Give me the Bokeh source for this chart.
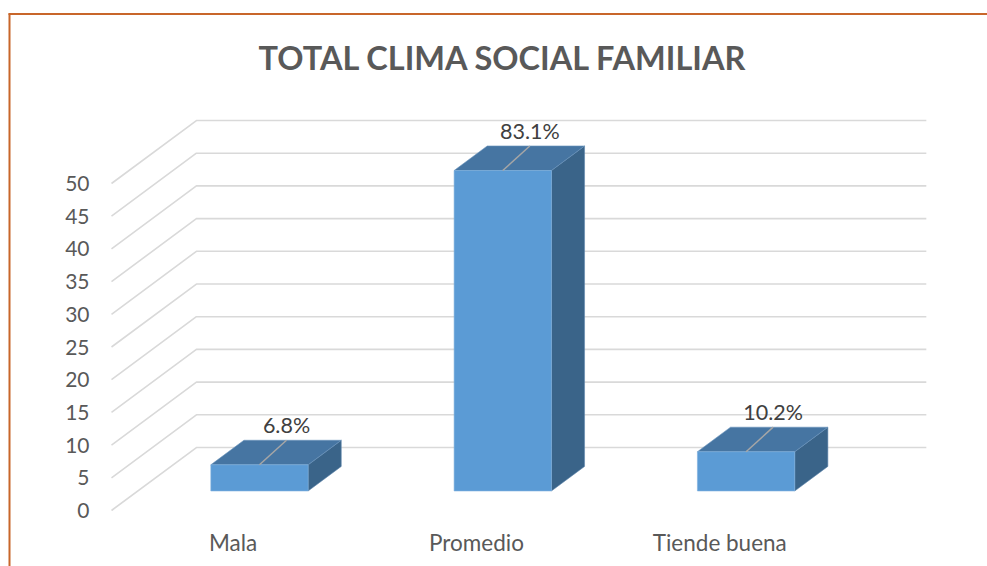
from bokeh.plotting import figure
from bokeh.models import Range1d
from bokeh.core.properties import value
from bokeh.embed import file_html
from bokeh.resources import INLINE

# ---- data ----
title_text = "TOTAL CLIMA SOCIAL FAMILIAR"
categories = ["Mala", "Promedio", "Tiende buena"]
counts = [4, 49, 6]
pct_labels = ["6.8%", "83.1%", "10.2%"]
y_ticks = [0, 5, 10, 15, 20, 25, 30, 35, 40, 45, 50]

# ---- geometry / style ----
W, H = 987, 566
PX_X = 243.3      # pixels per category unit
PX_Y = 6.54       # pixels per value unit
OX, OY = 111, 510 # screen position of (0,0) front plane
DX, DY = 0.349, 9.63   # depth offset (x units, value units)
D0, D1 = 0.31, 0.70    # bar depth start / end (fraction)
HALF = 0.2             # half bar width

def sx(px):
    return (px - OX) / PX_X

def sy(py):
    return (OY - py) / PX_Y

FONT = "Lato"
GRID = "#D9D9D9"
FRONT = "#5B9BD5"
TOP = "#4675A2"
SIDE = "#3A6489"
TXT = "#595959"

p = figure(width=W, height=H, output_backend="svg", toolbar_location=None,
           x_range=Range1d(sx(0), sx(W)), y_range=Range1d(sy(H), sy(0)),
           min_border=0, background_fill_color="white", border_fill_color="white")
p.xaxis.visible = False
p.yaxis.visible = False
p.grid.visible = False
p.outline_line_color = None

# orange frame of the document
p.segment(x0=[sx(8), sx(9)], y0=[sy(13.5), sy(13)], x1=[sx(990), sx(9)], y1=[sy(13.5), sy(570)],
          line_color="#C8662A", line_width=2)

# gridlines (side wall diagonal + back wall horizontal)
n_cat = len(categories)
xs = [[0, DX, n_cat + DX] for v in y_ticks]
ys = [[v, v + DY, v + DY] for v in y_ticks]
p.multi_line(xs=xs, ys=ys, line_color=GRID, line_width=1.6)

# y tick labels
p.text(x=[sx(89)] * len(y_ticks), y=y_ticks, text=[str(v) for v in y_ticks],
       text_align="right", text_baseline="middle", text_color=TXT,
       text_font=value(FONT), text_font_size=value("21px"))

# bars
front_x, front_y, top_x, top_y, side_x, side_y = [], [], [], [], [], []
for i, v in enumerate(counts):
    c = i + 0.5
    x0, x1 = c - HALF, c + HALF
    a = (D0 * DX, D0 * DY)
    b = (D1 * DX, D1 * DY)
    front_x.append([x0 + a[0], x1 + a[0], x1 + a[0], x0 + a[0]])
    front_y.append([a[1], a[1], v + a[1], v + a[1]])
    top_x.append([x0 + a[0], x1 + a[0], x1 + b[0], x0 + b[0]])
    top_y.append([v + a[1], v + a[1], v + b[1], v + b[1]])
    side_x.append([x1 + a[0], x1 + b[0], x1 + b[0], x1 + a[0]])
    side_y.append([a[1], b[1], v + b[1], v + a[1]])

p.patches(xs=side_x, ys=side_y, fill_color=SIDE, line_color="#5F87AD", line_width=0.6)
p.patches(xs=top_x, ys=top_y, fill_color=TOP, line_color="#6A93BC", line_width=0.6)
p.patches(xs=front_x, ys=front_y, fill_color=FRONT, line_color="#7FB0DE", line_width=0.6)

# data labels with leader lines
lx, ly, l_x0, l_y0, l_x1, l_y1 = [], [], [], [], [], []
for i, v in enumerate(counts):
    c = i + 0.5
    tx = c + D1 * DX - 0.025
    ty = v + D1 * DY
    lx.append(tx)
    ly.append(ty)
    l_x0.append(c + D0 * DX)
    l_y0.append(v + D0 * DY)
    l_x1.append(tx)
    l_y1.append(ty)
p.segment(x0=l_x0, y0=l_y0, x1=l_x1, y1=l_y1, line_color="#A6A6A6", line_width=1.5)
p.text(x=lx, y=ly, text=pct_labels, text_align="center", text_baseline="middle",
       y_offset=-15, text_color="#404040", text_font=value(FONT), text_font_size=value("21.5px"))

# category labels
p.text(x=[i + 0.5 for i in range(n_cat)], y=[sy(542)] * n_cat, text=categories,
       text_align="center", text_baseline="middle", text_color=TXT,
       text_font=value(FONT), text_font_size=value("22.5px"))

# title
p.text(x=[sx(503)], y=[sy(57)], text=[title_text], text_align="center", text_baseline="middle",
       text_color=TXT, text_font=value(FONT), text_font_style="bold", text_font_size=value("32.5px"))

open("out.html", "w").write(file_html(p, INLINE))
